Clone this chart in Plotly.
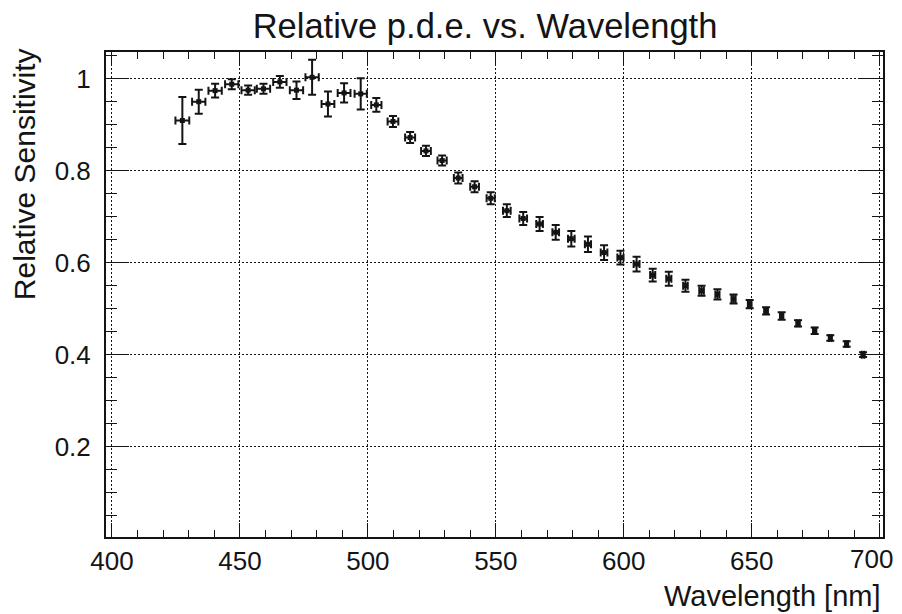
import plotly.graph_objects as go

wavelength = [427.5, 433.9, 440.3, 446.8, 453.2, 459.2, 465.6, 472.1, 478.2, 484.4,
              490.7, 497.2, 503.3, 509.8, 516.5, 522.7, 529.0, 535.3, 541.7, 548.0,
              554.3, 560.7, 567.1, 573.4, 579.5, 586.0, 592.3, 598.7, 605.0, 611.3,
              617.6, 624.1, 630.4, 636.6, 642.9, 649.2, 655.6, 661.7, 668.1, 674.6,
              680.7, 687.1, 693.5]
wavelength_err = [2.7, 2.6, 2.6, 2.6, 2.6, 2.6, 2.6, 2.6, 2.6, 2.5,
                  2.5, 2.4, 2.0, 2.1, 1.95, 1.9, 1.8, 1.7, 1.7, 1.6,
                  1.5, 1.5, 1.3, 1.3, 1.3, 1.2, 1.3, 1.2, 1.15, 1.0,
                  1.0, 0.9, 0.9, 0.8, 0.8, 0.7, 0.7, 0.6, 0.6, 0.6,
                  0.5, 0.5, 0.5]
sensitivity = [0.909, 0.950, 0.974, 0.988, 0.975, 0.978, 0.993, 0.975, 1.003, 0.945,
               0.969, 0.967, 0.943, 0.907, 0.872, 0.843, 0.822, 0.784, 0.765, 0.740,
               0.713, 0.696, 0.684, 0.666, 0.652, 0.640, 0.622, 0.611, 0.597, 0.573,
               0.565, 0.550, 0.539, 0.531, 0.521, 0.510, 0.495, 0.484, 0.468, 0.452,
               0.436, 0.423, 0.400]
sensitivity_err = [0.051, 0.026, 0.015, 0.011, 0.010, 0.011, 0.013, 0.019, 0.038, 0.027,
                   0.021, 0.034, 0.015, 0.012, 0.012, 0.011, 0.011, 0.012, 0.012, 0.013,
                   0.014, 0.014, 0.015, 0.016, 0.017, 0.017, 0.016, 0.015, 0.016, 0.014,
                   0.015, 0.013, 0.011, 0.011, 0.010, 0.009, 0.008, 0.008, 0.007, 0.007,
                   0.006, 0.006, 0.005]

x_tickvals = [400, 450, 500, 550, 600, 650, 700]
x_ticktext = ["400", "450", "500", "550", "600", "650", "700"]
y_tickvals = [0.2, 0.4, 0.6, 0.8, 1.0]
y_ticktext = ["0.2", "0.4", "0.6", "0.8", "1"]

FONT = "Liberation Sans, Arial, Helvetica, sans-serif"
INK = "#141414"

fig = go.Figure()
fig.add_trace(go.Scatter(
    x=wavelength, y=sensitivity, mode="markers",
    marker=dict(symbol="square", size=5, color=INK),
    error_x=dict(type="data", array=wavelength_err, color=INK, thickness=2, width=4),
    error_y=dict(type="data", array=sensitivity_err, color=INK, thickness=2, width=4),
    showlegend=False,
))

axis_common = dict(
    showline=True, linecolor=INK, linewidth=2, mirror="ticks",
    ticks="inside", tickcolor=INK, tickwidth=1,
    showgrid=True, gridcolor=INK, gridwidth=1, griddash="2px,2px",
    zeroline=False, ticklabeloverflow="allow", automargin=False,
    tickfont=dict(family=FONT, size=26, color=INK),
)

# the last x label is drawn as an annotation so it can sit slightly left like the original
axis_ticktext = x_ticktext[:-1] + [""]
fig.update_xaxes(
    range=[397.66, 701.3], tickmode="array", tickvals=x_tickvals, ticktext=axis_ticktext,
    ticklen=14,
    minor=dict(ticks="inside", dtick=10, tick0=400, ticklen=7, tickcolor=INK, tickwidth=1, showgrid=False),
    **axis_common,
)
fig.update_yaxes(
    range=[0.0035, 1.058], tickmode="array", tickvals=y_tickvals, ticktext=y_ticktext,
    ticklen=23, ticklabelstandoff=8,
    minor=dict(ticks="inside", dtick=0.05, tick0=0, ticklen=11, tickcolor=INK, tickwidth=1, showgrid=False),
    **axis_common,
)

fig.update_layout(
    width=902, height=614,
    margin=dict(l=106, r=19, t=52, b=77, autoexpand=False),
    paper_bgcolor="white", plot_bgcolor="white",
    font=dict(family=FONT, color=INK),
    title=dict(text="Relative p.d.e. vs. Wavelength", x=485 / 902, xanchor="center",
               xref="container", y=1 - 26 / 614, yanchor="middle", yref="container",
               font=dict(family=FONT, size=34.5, color=INK)),
    annotations=[
        dict(text=x_ticktext[-1], xref="x", yref="paper", x=x_tickvals[-1], y=-(542 - 537) / 485,
             xanchor="center", yanchor="top", xshift=-8, showarrow=False,
             font=dict(family=FONT, size=26, color=INK)),
        dict(text="Wavelength [nm]", xref="paper", yref="paper", x=1.0, y=-(596 - 537) / 485,
             xanchor="right", yanchor="middle", showarrow=False,
             font=dict(family=FONT, size=29, color=INK)),
        dict(text="Relative Sensitivity", xref="paper", yref="paper", x=(24 - 106) / 777, y=1.012,
             xanchor="center", yanchor="top", textangle=-90, showarrow=False,
             font=dict(family=FONT, size=30, color=INK)),
    ],
)

fig.write_html("out.html")
